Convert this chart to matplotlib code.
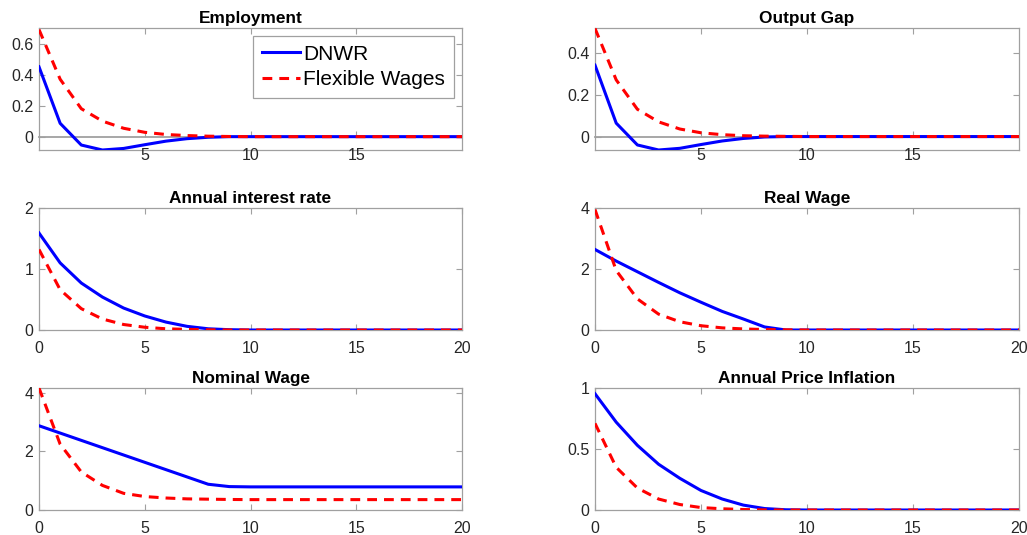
import matplotlib
matplotlib.use("Agg")
import matplotlib.pyplot as plt
import numpy as np

plt.rcParams['font.family'] = ['Liberation Sans', 'DejaVu Sans']

periods = np.arange(0, 21)

# impulse responses (horizon 0..20)
emp_dnwr = [0.45, 0.086, -0.054, -0.086, -0.076, -0.052, -0.029, -0.013, -0.004, 0.0] + [0.0] * 11
emp_flex = [0.69, 0.37, 0.18, 0.10, 0.054, 0.028, 0.014, 0.007, 0.003, 0.001] + [0.0] * 11

gap_dnwr = [0.34, 0.064, -0.04, -0.064, -0.056, -0.038, -0.021, -0.009, -0.002, 0.0] + [0.0] * 11
gap_flex = [0.515, 0.27, 0.13, 0.07, 0.036, 0.018, 0.009, 0.004, 0.002, 0.001] + [0.0] * 11

rate_dnwr = [1.59, 1.10, 0.77, 0.54, 0.36, 0.23, 0.13, 0.06, 0.02, 0.005] + [0.0] * 11
rate_flex = [1.32, 0.66, 0.35, 0.18, 0.09, 0.045, 0.02, 0.01, 0.003, 0.001] + [0.0] * 11

rw_dnwr = [2.64, 2.26, 1.91, 1.56, 1.22, 0.91, 0.61, 0.36, 0.10, 0.0] + [0.0] * 11
rw_flex = [3.95, 1.95, 1.02, 0.52, 0.27, 0.14, 0.07, 0.035, 0.015, 0.007] + [0.0] * 11

nw_dnwr = [2.88, 2.63, 2.38, 2.13, 1.88, 1.63, 1.38, 1.13, 0.88, 0.80] + [0.79] * 11
nw_flex = [4.17, 2.25, 1.30, 0.84, 0.57, 0.46, 0.41, 0.38, 0.37, 0.36] + [0.355] * 11

inf_dnwr = [0.953, 0.72, 0.53, 0.375, 0.26, 0.16, 0.09, 0.04, 0.012, 0.002] + [0.0] * 11
inf_flex = [0.71, 0.35, 0.18, 0.09, 0.045, 0.02, 0.01, 0.004, 0.001, 0.0] + [0.0] * 11

panels = [
    ("Employment", emp_dnwr, emp_flex, (-0.086, 0.70), [0, 0.2, 0.4, 0.6], ["0", "0.2", "0.4", "0.6"]),
    ("Output Gap", gap_dnwr, gap_flex, (-0.064, 0.517), [0, 0.2, 0.4], ["0", "0.2", "0.4"]),
    ("Annual interest rate", rate_dnwr, rate_flex, (0, 2), [0, 1, 2], ["0", "1", "2"]),
    ("Real Wage", rw_dnwr, rw_flex, (0, 4), [0, 2, 4], ["0", "2", "4"]),
    ("Nominal Wage", nw_dnwr, nw_flex, (0, 4.17), [0, 2, 4], ["0", "2", "4"]),
    ("Annual Price Inflation", inf_dnwr, inf_flex, (0, 1), [0, 0.5, 1], ["0", "0.5", "1"]),
]

W, H = 1027, 535
fig = plt.figure(figsize=(W / 100, H / 100), dpi=100)

col_x = [(39, 462), (595, 1019)]
row_y = [(28, 150), (208, 330), (388, 510)]
spine_col = "#a0a0a0"
text_col = "#262626"

for i, (title, dnwr, flex, ylim, yt, ytl) in enumerate(panels):
    r, c = divmod(i, 2)
    x0, x1 = col_x[c]
    y0, y1 = row_y[r]
    ax = fig.add_axes([x0 / W, 1 - y1 / H, (x1 - x0) / W, (y1 - y0) / H])

    ax.plot(periods, dnwr, color="#0000ff", lw=2.2, zorder=3, label="DNWR")
    ax.plot(periods, flex, color="#ff0000", lw=2.2, ls=(0, (3.2, 2.3)), zorder=4,
            label="Flexible Wages")

    ax.set_xlim(0, 20)
    ax.set_ylim(*ylim)
    for s in ax.spines.values():
        s.set_color(spine_col)
        s.set_linewidth(0.9)
    if r == 0:
        # x axis sits at the origin, box bottom still drawn
        ax.spines["bottom"].set_position(("data", 0))
        ax.spines["bottom"].set_linewidth(1.3)
        ax.spines["bottom"].set_zorder(1)
        ax.plot([0, 1], [0, 0], transform=ax.transAxes, color=spine_col,
                lw=0.9, clip_on=False, zorder=0)
        ax.set_xticks([5, 10, 15])
    else:
        ax.set_xticks([0, 5, 10, 15, 20])
    ax.set_yticks(yt)
    ax.set_yticklabels(ytl)
    ax.tick_params(direction="in", top=True, right=True, length=4, width=0.8,
                   color=spine_col, labelsize=11.5, labelcolor=text_col)
    ax.tick_params(axis="x", pad=8)
    ax.tick_params(axis="y", pad=4)
    ax.set_title(title, fontsize=12.4, fontweight="bold", pad=3.5)

    if i == 0:
        leg = ax.legend(loc="upper right", fontsize=15, frameon=True, fancybox=False,
                        handlelength=1.85, borderpad=0.4, labelspacing=0.32,
                        handletextpad=0.15, borderaxespad=0.4)
        leg.get_frame().set_edgecolor(spine_col)
        leg.get_frame().set_linewidth(0.9)
        leg.get_frame().set_alpha(1)

fig.savefig("out.png", dpi=100)
